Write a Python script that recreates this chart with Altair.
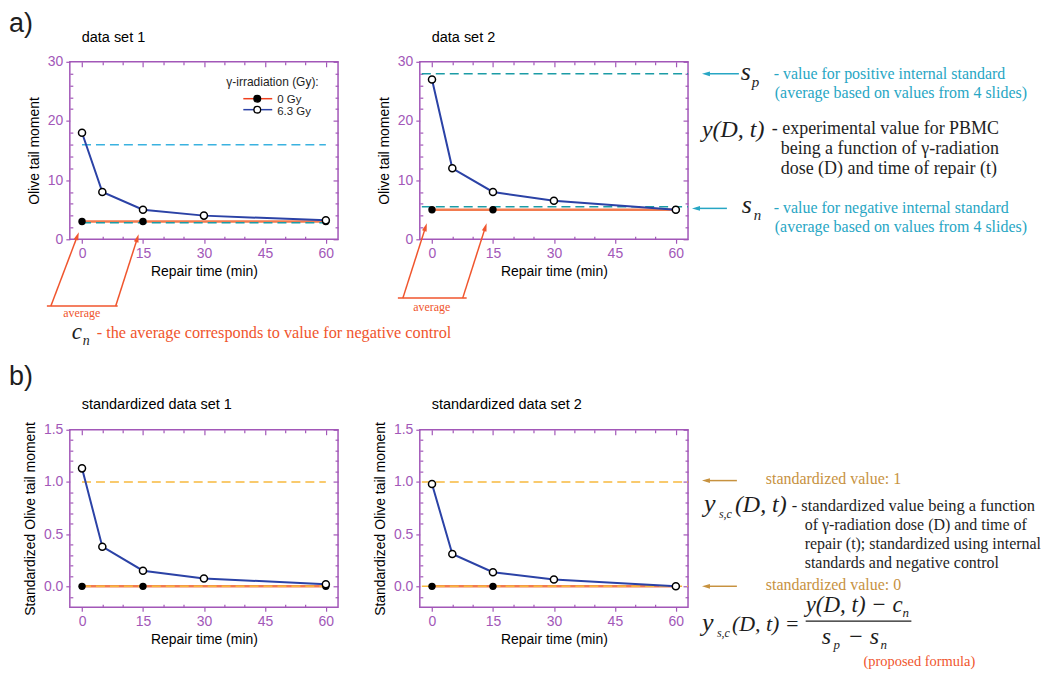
import math
import altair as alt
import pandas as pd

# ---------------- chart values ----------------
repair_time_irr = [0, 5, 15, 30, 60]
repair_time_ctrl = [0, 15, 60]
set1_irr = [18.0, 8.0, 5.0, 4.0, 3.2]
set1_ctrl = [3.0, 3.0, 3.0]
set2_irr = [27.0, 12.0, 8.0, 6.5, 5.0]
set2_ctrl = [5.0, 5.0, 5.0]
std1_irr = [1.13, 0.38, 0.15, 0.075, 0.02]
std1_ctrl = [0.0, 0.0, 0.0]
std2_irr = [0.98, 0.31, 0.135, 0.065, 0.0]
std2_ctrl = [0.0, 0.0, 0.0]
pos_standard = [16.0, 28.0]   # s_p for data set 1 and 2
neg_standard = [2.8, 5.5]     # s_n for data set 1 and 2
std_levels = [1.0, 0.0]       # standardized values 1 and 0
x_ticks = [0, 15, 30, 45, 60]
x_minor = [5, 10, 20, 25, 35, 40, 50, 55]
y_ticks_raw = [0, 10, 20, 30]
y_minor_raw = [2, 4, 6, 8, 12, 14, 16, 18, 22, 24, 26, 28]
y_ticks_std = [0.0, 0.5, 1.0, 1.5]
y_minor_std = [-0.1, 0.1, 0.2, 0.3, 0.4, 0.6, 0.7, 0.8, 0.9, 1.1, 1.2, 1.3, 1.4]

# ---------------- styles ----------------
SANS = "Liberation Sans"
SERIF = "Liberation Serif"
PURPLE = "#a257b8"
BLUE = "#2b42a6"
ORANGE = "#f27b4f"
SKY = "#3ab2e0"
TEAL = "#1c9ca6"
YELLOW = "#f7b93e"
CYAN = "#27a6c4"
RED = "#f0552d"
GOLD = "#c7923f"
DARK = "#1e1e1e"
PW, PH = 269, 178
X_DOMAIN = [-3, 63]
HEAD = "M0,-1L0.6,1L-0.6,1Z"


def panel(title, t_irr, v_irr, t_ctrl, v_ctrl, refs, ydom, yticks, yminor, ytitle, yfmt):
    xs = alt.Scale(domain=X_DOMAIN, nice=False, zero=False)
    ys = alt.Scale(domain=ydom, nice=False, zero=False)
    d_irr = pd.DataFrame({"t": t_irr, "v": v_irr})
    d_ctrl = pd.DataFrame({"t": t_ctrl, "v": v_ctrl})
    d_ref = pd.DataFrame(refs)

    def enc(xaxis=None, yaxis=None):
        return dict(x=alt.X("t:Q", scale=xs, axis=xaxis),
                    y=alt.Y("v:Q", scale=ys, axis=yaxis))

    x_main = alt.Axis(values=x_ticks, orient="bottom", tickSize=4, labelPadding=3,
                      title="Repair time (min)", titlePadding=4, domain=False, grid=False)
    y_main = alt.Axis(values=yticks, orient="left", tickSize=4, labelPadding=3,
                      title=ytitle, titlePadding=6, domain=False, grid=False, format=yfmt)

    def inner(vals, orient, size):
        return alt.Axis(values=vals, orient=orient, tickSize=size, offset=-size,
                        labels=False, domain=False, grid=False, title=None)

    line_ctrl = alt.Chart(d_ctrl).mark_line(color=ORANGE, strokeWidth=2.5).encode(**enc())
    ref = alt.Chart(d_ref).mark_rule(strokeDash=[9, 5], strokeWidth=1.5).encode(
        x=alt.X("t1:Q", scale=xs, axis=None), x2="t2:Q",
        y=alt.Y("v:Q", scale=ys, axis=None), color=alt.Color("c:N", scale=None))
    line_irr = alt.Chart(d_irr).mark_line(color=BLUE, strokeWidth=2).encode(**enc(x_main, y_main))
    pts_ctrl = alt.Chart(d_ctrl).mark_point(filled=True, color="black", size=55, opacity=1).encode(**enc())
    pts_irr = alt.Chart(d_irr).mark_point(filled=True, fill="white", stroke="black", strokeWidth=1.5,
                                          size=50, opacity=1).encode(**enc())
    ticks_a = alt.Chart(d_irr).mark_point(opacity=0).encode(
        **enc(inner(x_ticks, "top", 5), inner(yticks, "right", 5)))
    ticks_b = alt.Chart(d_irr).mark_point(opacity=0).encode(
        **enc(inner(x_minor, "bottom", 3), inner(yminor, "left", 3)))
    ticks_c = alt.Chart(d_irr).mark_point(opacity=0).encode(
        **enc(inner(x_minor, "top", 3), inner(yminor, "right", 3)))

    return alt.layer(line_ctrl, ref, line_irr, pts_ctrl, pts_irr, ticks_a, ticks_b, ticks_c).resolve_axis(
        x="independent", y="independent"
    ).properties(
        width=PW, height=PH,
        title=alt.TitleParams(title, anchor="start", frame="group", dx=12, offset=9, fontSize=14.5,
                              font=SANS, fontWeight="normal", color="black"),
        view=alt.ViewBackground(stroke=PURPLE, strokeWidth=1.5),
    )


GROUPS = {
    "serif": dict(font=SERIF, fontStyle="normal", align="left", baseline="alphabetic"),
    "italic": dict(font=SERIF, fontStyle="italic", align="left", baseline="alphabetic"),
    "serif_c": dict(font=SERIF, fontStyle="normal", align="center", baseline="alphabetic"),
    "sans": dict(font=SANS, fontStyle="normal", align="left", baseline="alphabetic"),
}


def annotation_panel(xdom, ydom, texts, lines, arrows, dots):
    xs = alt.Scale(domain=xdom, nice=False, zero=False)
    ys = alt.Scale(domain=ydom, nice=False, zero=False)
    layers = []

    rules = [dict(x=a, y=b, x2=c, y2=d, c=col, w=w) for (a, b, c, d, col, w) in lines]
    heads = []
    for (x1, y1, x2, y2, col) in arrows:
        dx, dy = x2 - x1, y2 - y1
        L = math.hypot(dx, dy)
        ux, uy = dx / L, dy / L
        cx, cy = x2 - ux * 4.0, y2 - uy * 4.0
        ang = math.degrees(math.atan2(dx, -dy)) % 360
        rules.append(dict(x=x1, y=y1, x2=cx, y2=cy, c=col, w=1.5))
        heads.append(dict(x=cx, y=cy, a=ang, c=col))

    if rules:
        layers.append(alt.Chart(pd.DataFrame(rules)).mark_rule().encode(
            x=alt.X("x:Q", scale=xs, axis=None), x2="x2:Q",
            y=alt.Y("y:Q", scale=ys, axis=None), y2="y2:Q",
            color=alt.Color("c:N", scale=None), strokeWidth=alt.StrokeWidth("w:Q", scale=None)))
    if heads:
        layers.append(alt.Chart(pd.DataFrame(heads)).mark_point(
            shape=HEAD, filled=True, size=64, opacity=1).encode(
            x=alt.X("x:Q", scale=xs, axis=None), y=alt.Y("y:Q", scale=ys, axis=None),
            angle=alt.Angle("a:Q", scale=None), color=alt.Color("c:N", scale=None)))
    if dots:
        ddf = pd.DataFrame([dict(x=a, y=b, f=f) for (a, b, f) in dots])
        layers.append(alt.Chart(ddf).mark_point(filled=True, stroke="black", strokeWidth=1.3,
                                                size=45, opacity=1).encode(
            x=alt.X("x:Q", scale=xs, axis=None), y=alt.Y("y:Q", scale=ys, axis=None),
            fill=alt.Fill("f:N", scale=None)))
    for g, props in GROUPS.items():
        rows = [dict(s=s, x=x, y=y, c=c, f=f) for (s, x, y, c, f, gg) in texts if gg == g]
        if not rows:
            continue
        layers.append(alt.Chart(pd.DataFrame(rows)).mark_text(**props).encode(
            x=alt.X("x:Q", scale=xs, axis=None), y=alt.Y("y:Q", scale=ys, axis=None),
            text="s:N", color=alt.Color("c:N", scale=None), size=alt.Size("f:Q", scale=None)))
    return alt.layer(*layers).properties(width=PW, height=PH,
                                         view=alt.ViewBackground(stroke="transparent"))


# ---------------- panels ----------------
a1 = panel("data set 1", repair_time_irr, set1_irr, repair_time_ctrl, set1_ctrl,
           [dict(t1=0, t2=60, v=pos_standard[0], c=SKY), dict(t1=0, t2=60, v=neg_standard[0], c=TEAL)],
           [0, 30], y_ticks_raw, y_minor_raw, "Olive tail moment", "d")
a2 = panel("data set 2", repair_time_irr, set2_irr, repair_time_ctrl, set2_ctrl,
           [dict(t1=-2.5, t2=63, v=pos_standard[1], c=TEAL), dict(t1=-2.5, t2=63, v=neg_standard[1], c=TEAL)],
           [0, 30], y_ticks_raw, y_minor_raw, "Olive tail moment", "d")
b1 = panel("standardized data set 1", repair_time_irr, std1_irr, repair_time_ctrl, std1_ctrl,
           [dict(t1=0, t2=60, v=std_levels[0], c=YELLOW), dict(t1=0, t2=60, v=std_levels[1], c=YELLOW)],
           [-0.2, 1.5], y_ticks_std, y_minor_std, "Standardized Olive tail moment", ".1f")
b2 = panel("standardized data set 2", repair_time_irr, std2_irr, repair_time_ctrl, std2_ctrl,
           [dict(t1=-2.5, t2=63, v=std_levels[0], c=YELLOW), dict(t1=-2.5, t2=63, v=std_levels[1], c=YELLOW)],
           [-0.2, 1.5], y_ticks_std, y_minor_std, "Standardized Olive tail moment", ".1f")

# ---------------- annotations (page coordinates) ----------------
texts_a = [
    ("a)", 8, 30, DARK, 27, "sans"),
    ("γ-irradiation (Gy):", 226, 84, DARK, 12, "sans"),
    ("0 Gy", 277, 101, DARK, 11.5, "sans"),
    ("6.3 Gy", 277, 113, DARK, 11.5, "sans"),
    ("s", 742, 78, DARK, 26, "italic"),
    ("p", 753, 85, DARK, 15, "italic"),
    ("- value for positive internal standard", 775, 77, CYAN, 16, "serif"),
    ("(average based on values from 4 slides)", 776, 96, CYAN, 16, "serif"),
    ("y(D, t)", 703, 135, DARK, 24, "italic"),
    ("- experimental value for PBMC", 773, 132, DARK, 18, "serif"),
    ("being a function of γ-radiation", 782, 152, DARK, 18, "serif"),
    ("dose (D) and time of repair (t)", 782, 173, DARK, 18, "serif"),
    ("s", 743, 212, DARK, 26, "italic"),
    ("n", 755, 219, DARK, 15, "italic"),
    ("- value for negative internal standard", 775, 212, CYAN, 16, "serif"),
    ("(average based on values from 4 slides)", 776, 231, CYAN, 16, "serif"),
    ("c", 71, 338, DARK, 23, "italic"),
    ("n", 82, 344, DARK, 14, "italic"),
    ("- the average corresponds to value for negative control", 96, 337, RED, 16.3, "serif"),
    ("average", 81, 316, RED, 12, "serif_c"),
    ("average", 432, 310, RED, 12, "serif_c"),
]
lines_a = [
    (243, 97, 272, 97, "#f0401e", 1.5),
    (243, 108, 272, 108, BLUE, 1.5),
    (46, 305, 117, 305, RED, 1.5),
    (398, 297, 467, 297, RED, 1.5),
]
arrows_a = [
    (740, 72, 703, 72, CYAN),
    (728, 207, 693, 207, CYAN),
    (50, 305, 78, 231, RED),
    (115, 305, 138, 233, RED),
    (403, 297, 427, 222, RED),
    (463, 297, 487, 222, RED),
]
dots_a = [(257, 97, "black"), (257, 108, "white")]

texts_b = [
    ("b)", 8, 384, DARK, 27, "sans"),
    ("standardized value: 1", 767, 483, GOLD, 16, "serif"),
    ("y", 705, 512, DARK, 26, "italic"),
    ("s,c", 720, 518, DARK, 12, "italic"),
    ("(D, t)", 736, 512, DARK, 24, "italic"),
    ("- standardized value being a function", 793, 510, DARK, 16.5, "serif"),
    ("of γ-radiation dose (D) and time of", 806, 530, DARK, 16, "serif"),
    ("repair (t); standardized using internal", 806, 549, DARK, 16, "serif"),
    ("standards and negative control", 806, 568, DARK, 16, "serif"),
    ("standardized value: 0", 767, 590, GOLD, 16, "serif"),
    ("y", 703, 631, DARK, 26, "italic"),
    ("s,c", 718, 637, DARK, 12, "italic"),
    ("(D, t) =", 733, 631, DARK, 22, "italic"),
    ("y(D, t) − c", 807, 612, DARK, 23, "italic"),
    ("n", 904, 617, DARK, 13, "italic"),
    ("s", 823, 644, DARK, 24, "italic"),
    ("p", 835, 649, DARK, 13, "italic"),
    ("− s", 849, 644, DARK, 24, "italic"),
    ("n", 882, 649, DARK, 13, "italic"),
    ("(proposed formula)", 921, 666, RED, 14.5, "serif_c"),
]
lines_b = [(807, 621, 913, 621, DARK, 1.2)]
arrows_b = [
    (738, 480, 703, 480, GOLD),
    (738, 586, 703, 586, GOLD),
]

ann_a = annotation_panel([771, 771 + PW], [60 + PH, 60], texts_a, lines_a, arrows_a, dots_a)
ann_b = annotation_panel([771, 771 + PW], [429 + PH, 429], texts_b, lines_b, arrows_b, [])

chart = alt.concat(
    a1, a2, ann_a, b1, b2, ann_b,
    columns=3, spacing={"row": 191, "column": 82}, bounds="flush",
).properties(
    padding=0,
).configure_view(
    stroke="transparent",
).configure_axis(
    labelFont=SANS, labelFontSize=14, labelColor=PURPLE,
    titleFont=SANS, titleFontSize=14, titleColor="black", titleFontWeight="normal",
    tickColor=PURPLE, tickWidth=1.2, grid=False,
)

chart.save("out.html", embed_options={"renderer": "svg", "actions": False})
